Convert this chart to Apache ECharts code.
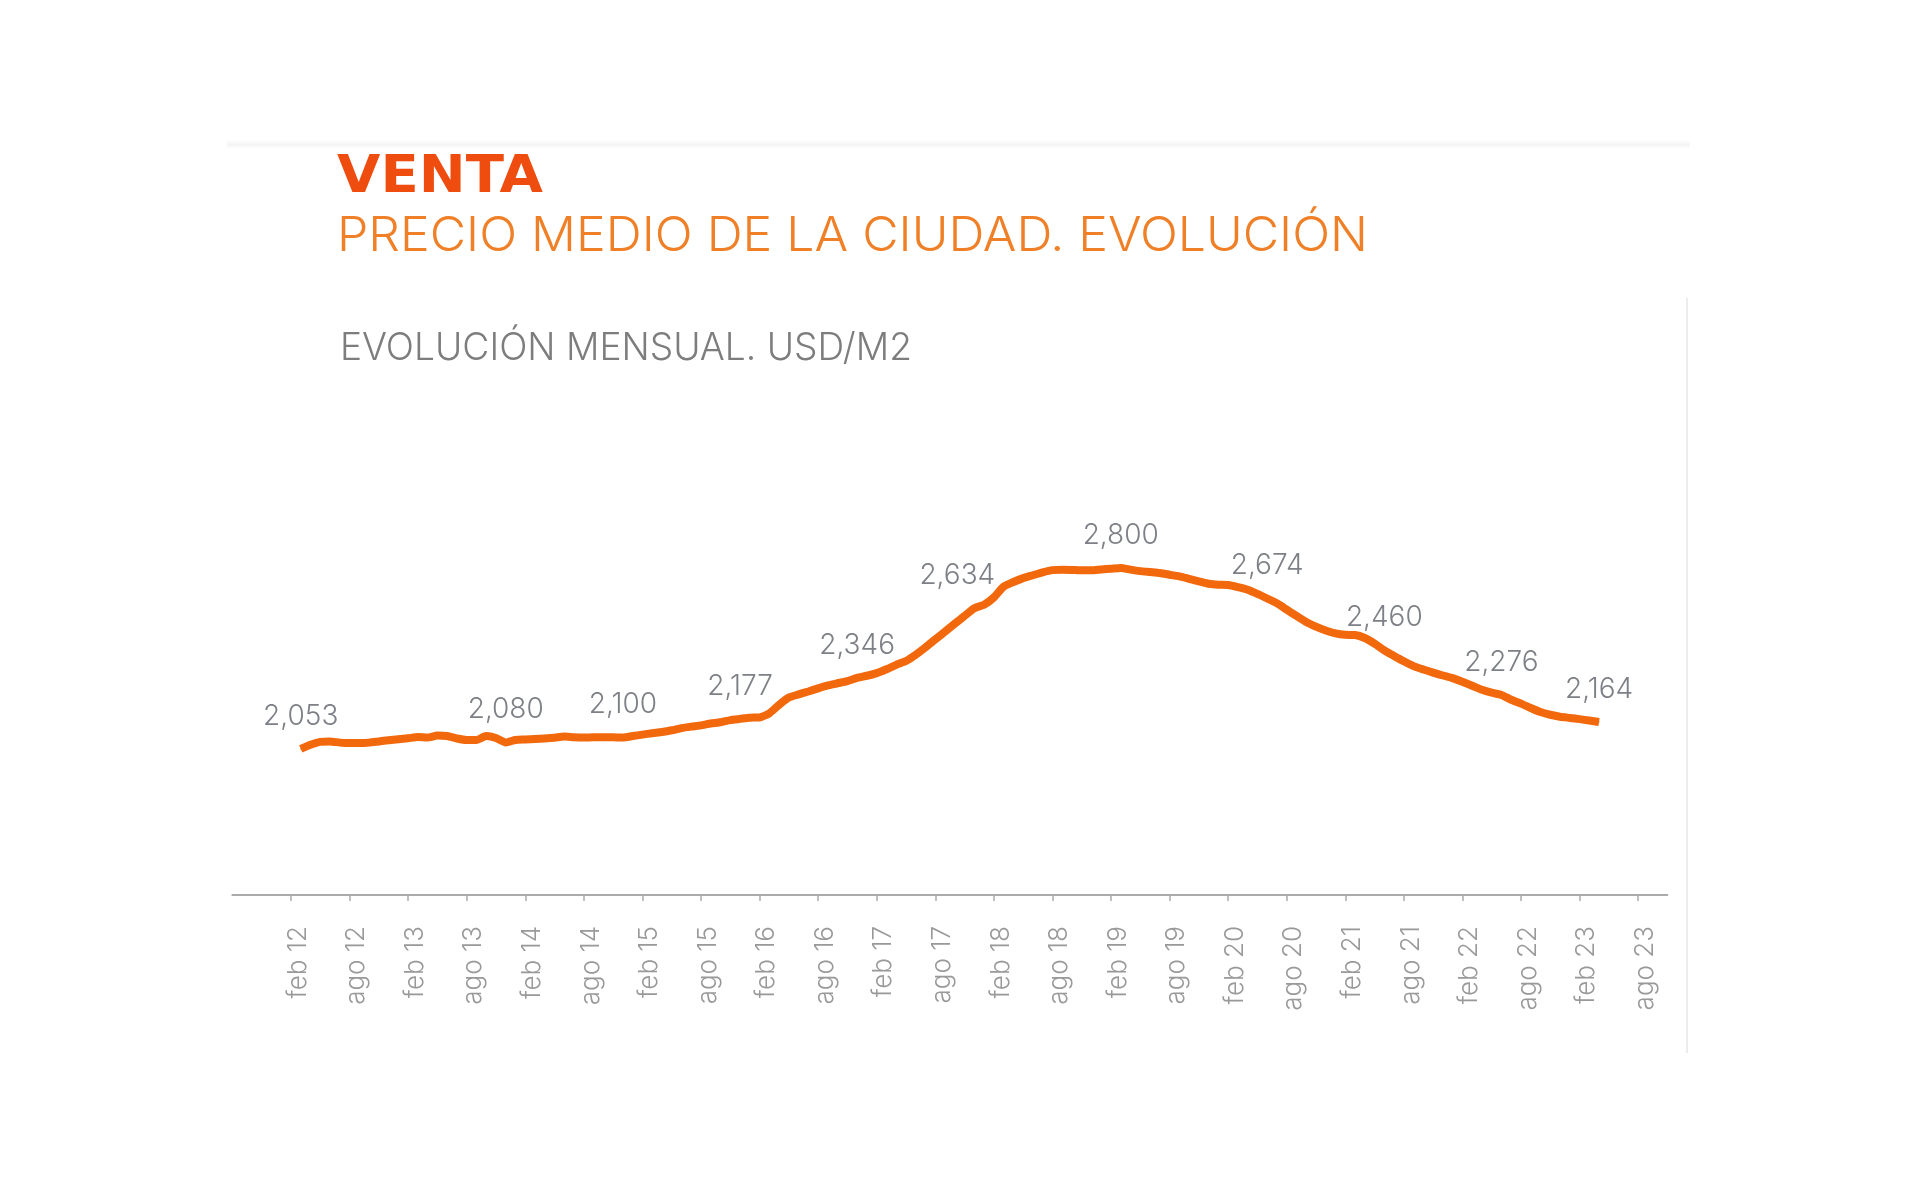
<!DOCTYPE html>
<html>
<head>
<meta charset="utf-8">
<script src="https://cdn.jsdelivr.net/npm/echarts@6/dist/echarts.min.js"></script>
<style>
html,body{margin:0;padding:0;background:#ffffff;}
#chart{width:1920px;height:1198px;}
</style>
</head>
<body>
<div id="chart"></div>
<script>
// ---- texts ----
const titleMain = 'VENTA';
const titleSub = 'PRECIO MEDIO DE LA CIUDAD. EVOLUCIÓN';
const chartCaption = 'EVOLUCIÓN MENSUAL. USD/M2';

// ---- axis categories (monthly, ago 2011 .. nov 2023) ----
const monthNames = ['ene','feb','mar','abr','may','jun','jul','ago','sep','oct','nov','dic'];
const axisStartYear = 2011;
const axisStartMonth = 7;      // 'ago'
const axisMonthCount = 148;
const categories = [];
for (let i = 0; i < axisMonthCount; i++) {
  const k = axisStartMonth + i;
  const y = axisStartYear + Math.floor(k / 12);
  categories.push(monthNames[k % 12] + ' ' + String(y % 100).padStart(2, '0'));
}
// tick labels shown on the axis
const tickLabels = ['feb 12','ago 12','feb 13','ago 13','feb 14','ago 14','feb 15','ago 15','feb 16','ago 16',
  'feb 17','ago 17','feb 18','ago 18','feb 19','ago 19','feb 20','ago 20','feb 21','ago 21','feb 22','ago 22','feb 23','ago 23'];

// ---- series: monthly price USD/m2, mar 12 .. abr 23 ----
const seriesStart = 'mar 12';
const prices = [
  2053, 2070, 2082, 2084, 2079, 2077, 2077, 2079, 2084, 2089, 2093,       // mar12-ene13
  2097, 2102, 2100, 2108, 2106, 2096, 2090, 2090, 2106, 2098, 2080, 2090, // feb13-ene14
  2092, 2094, 2096, 2099, 2104, 2101, 2100, 2101, 2101, 2101, 2100, 2106, // feb14-ene15
  2112, 2118, 2123, 2130, 2139, 2145, 2150, 2158, 2163, 2172, 2177, 2182, // feb15-ene16
  2183, 2200, 2235, 2265, 2278, 2290, 2303, 2315, 2324, 2333, 2346, 2355, // feb16-ene17
  2366, 2382, 2400, 2416, 2442, 2472, 2505, 2537, 2570, 2602, 2634, 2648, // feb17-ene18
  2678, 2723, 2742, 2758, 2770, 2782, 2791, 2793, 2792, 2790, 2790, 2794, // feb18-ene19
  2797, 2800, 2793, 2787, 2783, 2779, 2772, 2765, 2755, 2745, 2735, 2731, // feb19-ene20
  2730, 2721, 2710, 2693, 2674, 2654, 2628, 2602, 2577, 2558, 2542, 2530, // feb20-ene21
  2524, 2523, 2511, 2488, 2460, 2437, 2415, 2395, 2381, 2368, 2356, 2345, // feb21-ene22
  2330, 2314, 2297, 2285, 2276, 2256, 2240, 2222, 2205, 2194, 2186, 2181, // feb22-ene23
  2176, 2170, 2164                                                         // feb23-abr23
];
// annotated points
const labeledMonths = ['mar 12','dic 13','dic 14','dic 15','dic 16','dic 17','mar 19','jun 20','jun 21','jun 22','abr 23'];
const labelShifts = {'dic 17': [-17, 0]};

// ---- build series data ----
const startIdx = categories.indexOf(seriesStart);
const seriesData = categories.map(function (c, i) {
  const j = i - startIdx;
  if (j < 0 || j >= prices.length) return null;
  if (labeledMonths.indexOf(c) >= 0) {
    return {
      value: prices[j],
      label: { show: true, offset: labelShifts[c] || [0, 0] }
    };
  }
  return prices[j];
});

const chart = echarts.init(document.getElementById('chart'), null, { renderer: 'canvas' });

const showTick = function (index, value) { return tickLabels.indexOf(categories[index]) >= 0; };

function fitScale(text, font, target) {
  const c = document.createElement('canvas').getContext('2d');
  c.font = font;
  const w = c.measureText(text).width;
  return w > 0 ? target / w : 1;
}
const fSub = '300 48px Inter';
const fCap = '300 38px Inter';
const fMain = 'bold 51px "DejaVu Sans"';

function buildOption() {
  const sMain = fitScale(titleMain, fMain, 206);
  const sSub = fitScale(titleSub, fSub, 1031);
  const sCap = fitScale(chartCaption, fCap, 572);
  return {
    backgroundColor: '#ffffff',
    animation: false,
    grid: { left: 232.4, right: 252.6, top: 519.5, bottom: 303, containLabel: false },
    xAxis: {
      type: 'category',
      data: categories,
      boundaryGap: false,
      axisLine: { show: true, lineStyle: { color: '#ababab', width: 2 } },
      axisTick: { show: true, interval: showTick, length: 6, lineStyle: { color: '#ababab', width: 1.5 } },
      axisLabel: {
        show: true, interval: showTick, rotate: 90, margin: 31,
        color: '#999999', fontSize: 26, fontFamily: 'Inter', fontWeight: 300,
        verticalAlign: 'top', lineHeight: 14
      },
      splitLine: { show: false }
    },
    yAxis: {
      type: 'value', min: 1450, max: 3000, show: false,
      splitLine: { show: false }
    },
    series: [{
      type: 'line',
      data: seriesData,
      smooth: 0.2,
      symbol: 'circle',
      symbolSize: 1,
      showSymbol: true,
      showAllSymbol: true,
      connectNulls: false,
      lineStyle: { color: '#F2680C', width: 8, cap: 'butt', join: 'round' },
      itemStyle: { color: '#F2680C' },
      label: {
        show: false, position: 'top', distance: 18,
        color: '#7e8087', fontSize: 28, fontFamily: 'Inter', fontWeight: 300,
        formatter: function (p) { return Number(p.value).toLocaleString('en-US'); }
      },
      emphasis: { disabled: true }
    }],
    graphic: [
      { type: 'rect', shape: { x: 227, y: 140, width: 1463, height: 9 }, silent: true,
        style: { fill: new echarts.graphic.LinearGradient(0, 0, 0, 1, [
          { offset: 0, color: 'rgba(0,0,0,0)' }, { offset: 0.5, color: 'rgba(0,0,0,0.045)' }, { offset: 1, color: 'rgba(0,0,0,0)' }]) } },
      { type: 'line', shape: { x1: 1687, y1: 298, x2: 1687, y2: 1053 }, silent: true,
        style: { stroke: '#ececec', lineWidth: 2 } },
      { type: 'text', x: 337, y: 179, scaleX: sMain, silent: true,
        style: { text: titleMain, font: fMain, fill: '#EF4C10', verticalAlign: 'middle', align: 'left' } },
      { type: 'text', x: 337, y: 237, scaleX: sSub, silent: true,
        style: { text: titleSub, font: fSub, fill: '#F08028', verticalAlign: 'middle', align: 'left' } },
      { type: 'text', x: 340, y: 348.5, scaleX: sCap, silent: true,
        style: { text: chartCaption, font: fCap, fill: '#7d7d7d', verticalAlign: 'middle', align: 'left' } }
    ]
  };
}

chart.setOption(buildOption());
if (document.fonts && document.fonts.ready) {
  document.fonts.ready.then(function () { chart.setOption(buildOption()); });
}
</script>
</body>
</html>
